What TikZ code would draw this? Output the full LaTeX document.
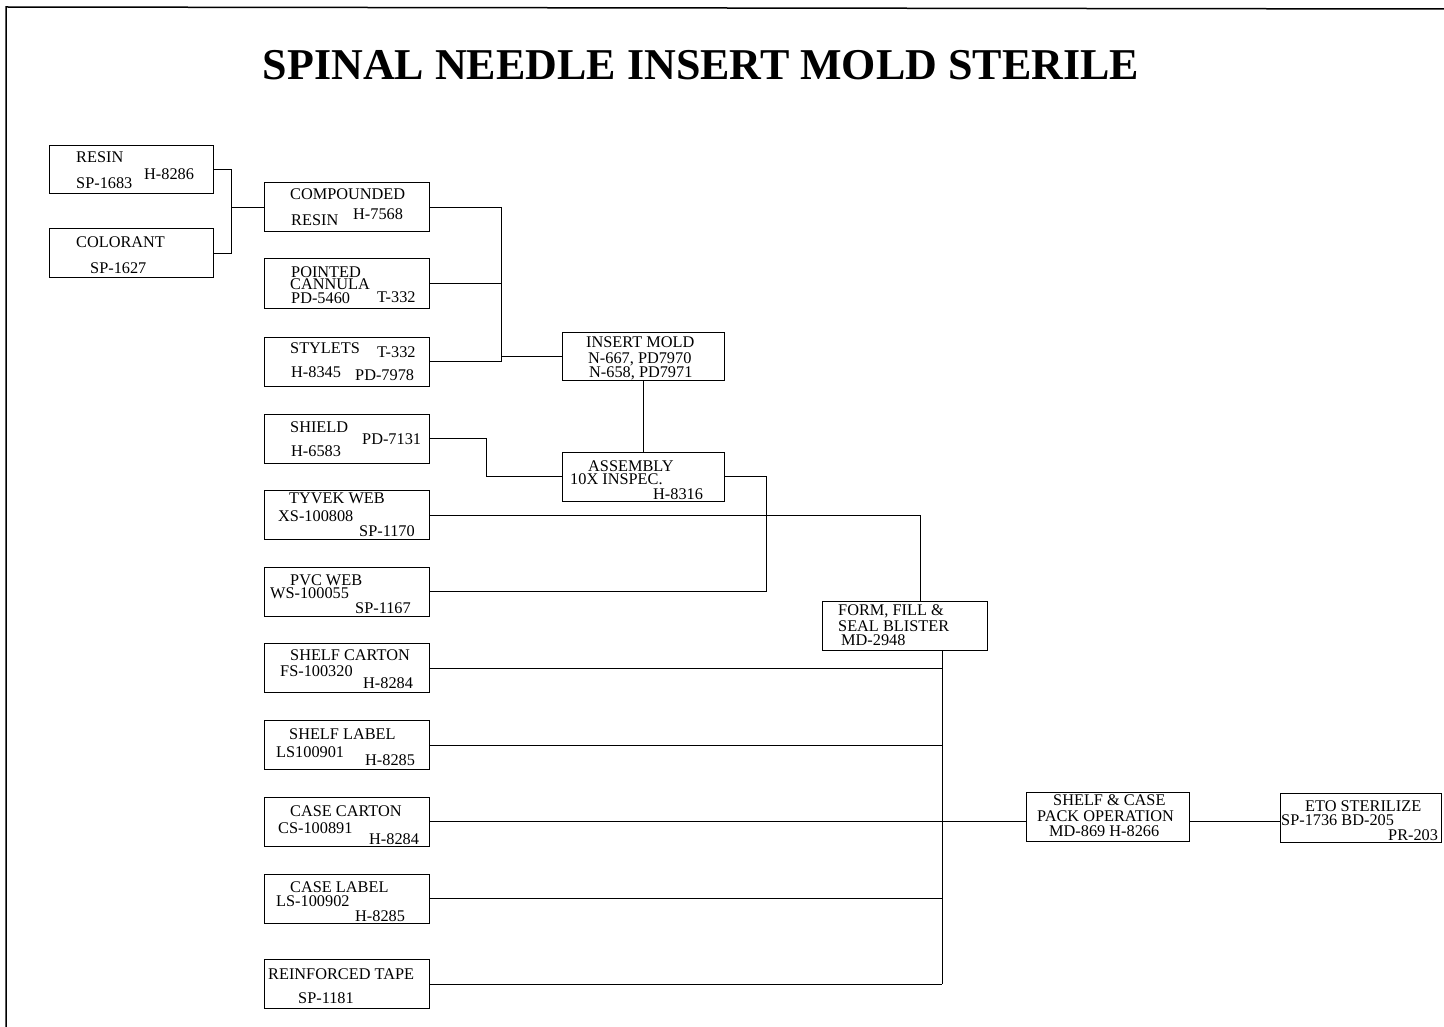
\documentclass[tikz,border=0pt]{standalone}
\usepackage{fontspec}
\setmainfont{Liberation Serif}

\tikzset{
    unit/.style={draw, line width=1pt, rectangle, inner sep=0pt,
      minimum width=165pt, minimum height=49pt},
    txt/.style={anchor=base west, inner sep=0pt,
      font=\fontsize{16.3}{17}\selectfont},
    link/.style={line width=1pt}
  }

\begin{document}
\begin{tikzpicture}[x=1pt,y=-1pt]
    \useasboundingbox (0,0) rectangle (1444,1027);
    \draw[line width=1.5pt] (6,1027) -- (6,7) -- (1444,9);

    \node[anchor=base, inner sep=0pt, font=\fontsize{44}{44}\selectfont\bfseries]
      (title) at (701,80) {SPINAL NEEDLE INSERT MOLD STERILE};

    % boxes
    \node[unit, minimum width=164pt, minimum height=48pt] (resin) at (131,170) {};
    \node[unit, minimum width=164pt] (colorant) at (131,253.5) {};
    \node[unit] (compounded) at (346.5,207.5) {};
    \node[unit, minimum height=50pt] (pointed) at (346.5,284) {};
    \node[unit] (stylets) at (346.5,361.5) {};
    \node[unit] (shield) at (346.5,438.5) {};
    \node[unit] (tyvek) at (346.5,515) {};
    \node[unit] (pvc) at (346.5,591.5) {};
    \node[unit] (shelfcarton) at (346.5,668) {};
    \node[unit] (shelflabel) at (346.5,745) {};
    \node[unit] (casecarton) at (346.5,821.5) {};
    \node[unit] (caselabel) at (346.5,898.5) {};
    \node[unit] (tape) at (346.5,984) {};
    \node[unit, minimum width=162pt, minimum height=48pt] (insert) at (643,356) {};
    \node[unit, minimum width=162pt] (assembly) at (643,476.5) {};
    \node[unit] (form) at (904.5,625.5) {};
    \node[unit, minimum width=163pt] (pack) at (1107.5,816.5) {};
    \node[unit, minimum width=161pt] (eto) at (1360.5,817.5) {};

    % texts
    \node[txt] (resin-1) at (76,163) {RESIN};
    \node[txt] (resin-2) at (144,180) {H-8286};
    \node[txt] (resin-3) at (76,189) {SP-1683};
    \node[txt] (colorant-1) at (76,248) {COLORANT};
    \node[txt] (colorant-2) at (90,273) {SP-1627};
    \node[txt] (compounded-1) at (290,200) {COMPOUNDED};
    \node[txt] (compounded-2) at (291,226) {RESIN};
    \node[txt] (compounded-3) at (353,220) {H-7568};
    \node[txt] (pointed-1) at (291,278) {POINTED};
    \node[txt] (pointed-2) at (290,290) {CANNULA};
    \node[txt] (pointed-3) at (291,303) {PD-5460};
    \node[txt] (pointed-4) at (377,302) {T-332};
    \node[txt] (stylets-1) at (290,353) {STYLETS};
    \node[txt] (stylets-2) at (377,357) {T-332};
    \node[txt] (stylets-3) at (291,377) {H-8345};
    \node[txt] (stylets-4) at (355,380) {PD-7978};
    \node[txt] (shield-1) at (290,432) {SHIELD};
    \node[txt] (shield-2) at (362,444) {PD-7131};
    \node[txt] (shield-3) at (291,456) {H-6583};
    \node[txt] (tyvek-1) at (289,503) {TYVEK WEB};
    \node[txt] (tyvek-2) at (278,521) {XS-100808};
    \node[txt] (tyvek-3) at (359,536) {SP-1170};
    \node[txt] (pvc-1) at (290,585) {PVC WEB};
    \node[txt] (pvc-2) at (270,598) {WS-100055};
    \node[txt] (pvc-3) at (355,613) {SP-1167};
    \node[txt] (shelfcarton-1) at (290,660) {SHELF CARTON};
    \node[txt] (shelfcarton-2) at (280,676) {FS-100320};
    \node[txt] (shelfcarton-3) at (363,688) {H-8284};
    \node[txt] (shelflabel-1) at (289,739) {SHELF LABEL};
    \node[txt] (shelflabel-2) at (276,757) {LS100901};
    \node[txt] (shelflabel-3) at (365,765) {H-8285};
    \node[txt] (casecarton-1) at (290,816) {CASE CARTON};
    \node[txt] (casecarton-2) at (278,833) {CS-100891};
    \node[txt] (casecarton-3) at (369,844) {H-8284};
    \node[txt] (caselabel-1) at (290,892) {CASE LABEL};
    \node[txt] (caselabel-2) at (276,906) {LS-100902};
    \node[txt] (caselabel-3) at (355,921) {H-8285};
    \node[txt] (tape-1) at (268,979) {REINFORCED TAPE};
    \node[txt] (tape-2) at (298,1003) {SP-1181};
    \node[txt] (insert-1) at (586,347) {INSERT MOLD};
    \node[txt] (insert-2) at (588,363) {N-667, PD7970};
    \node[txt] (insert-3) at (589,377) {N-658, PD7971};
    \node[txt] (assembly-1) at (588,471) {ASSEMBLY};
    \node[txt] (assembly-2) at (570,484) {10X INSPEC.};
    \node[txt] (assembly-3) at (653,499) {H-8316};
    \node[txt] (form-1) at (838,615) {FORM, FILL \&};
    \node[txt] (form-2) at (838,631) {SEAL BLISTER};
    \node[txt] (form-3) at (841,645) {MD-2948};
    \node[txt] (pack-1) at (1053,805) {SHELF \& CASE};
    \node[txt] (pack-2) at (1037,821) {PACK OPERATION};
    \node[txt] (pack-3) at (1049,836) {MD-869 H-8266};
    \node[txt] (eto-1) at (1305,811) {ETO STERILIZE};
    \node[txt] (eto-2) at (1281,825) {SP-1736 BD-205};
    \node[txt] (eto-3) at (1388,840) {PR-203};

    % connectors
    \draw[link] (compounded.west) -- ++(-32,0) coordinate (j1);
    \draw[link] (resin.east) -| (j1) |- (colorant.east);

    \draw[link] (insert.west) -- ++(-60,0) coordinate (j2);
    \draw[link] (compounded.east) -| (j2);
    \draw[link] (pointed.east) -- (pointed.east -| j2);
    \draw[link] (stylets.east) -| (j2);

    \draw[link] (insert.south) -- (assembly.north);
    \draw[link] (shield.east) -- ++(57,0) |- (assembly.west);
    \draw[link] (assembly.east) -- ++(42,0) |- (pvc.east);

    \coordinate (f-in) at ([xshift=16pt]form.north);
    \coordinate (f-out) at ([xshift=37.5pt]form.south);
    \draw[link] (tyvek.east) -| (f-in);
    \draw[link] (f-out) -- (f-out |- tape.east);
    \foreach \n in {shelfcarton,shelflabel,caselabel,tape} {
      \draw[link] (\n.east) -- (\n.east -| f-out);
    }
    \draw[link] (casecarton.east) -- (casecarton.east -| pack.west);
    \draw[link] (casecarton.east -| pack.east) -- (casecarton.east -| eto.west);

  \end{tikzpicture}
\end{document}
